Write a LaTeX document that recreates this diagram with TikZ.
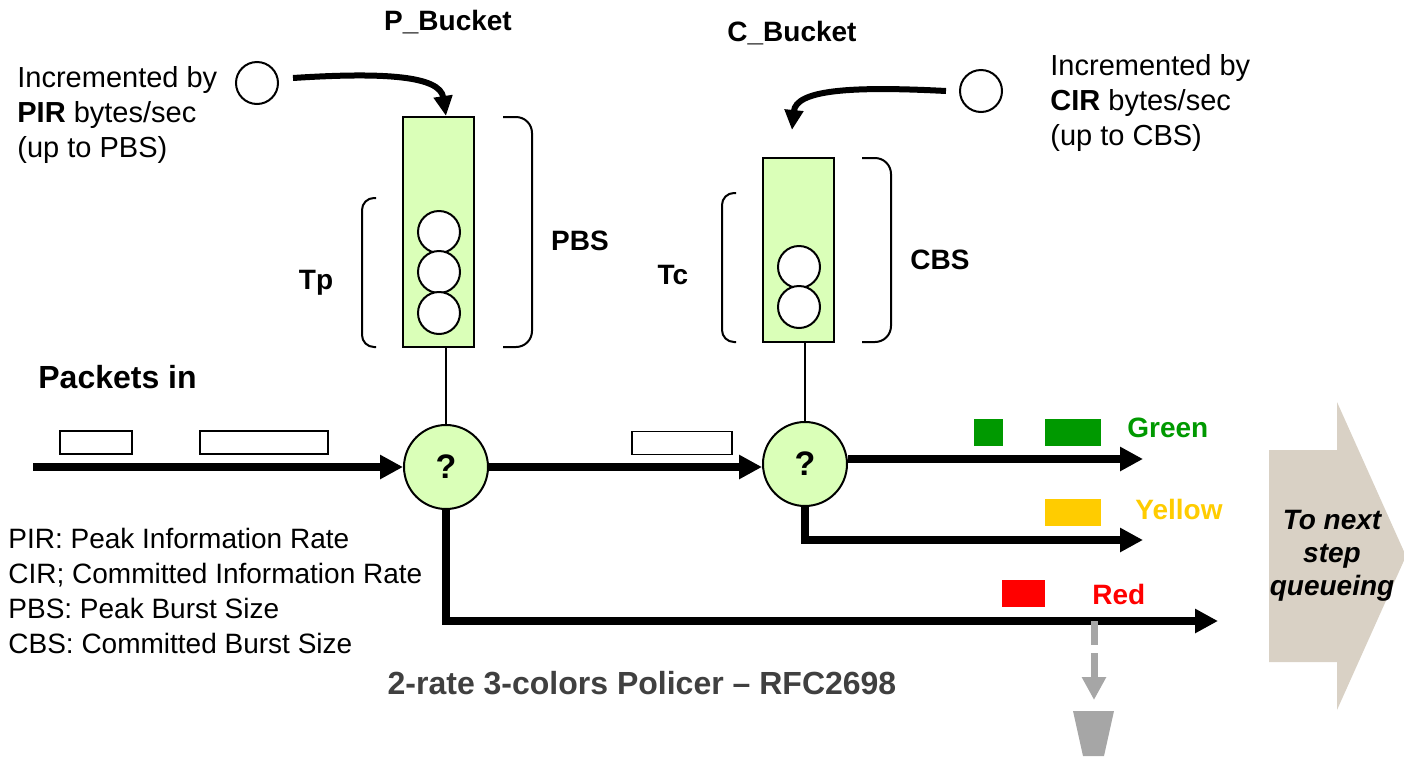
\documentclass[tikz,border=0pt]{standalone}
\usepackage{fontspec}
\setmainfont{Liberation Sans}
\usetikzlibrary{arrows.meta,calc}
\definecolor{bucketgreen}{RGB}{218,255,184}
\definecolor{pgreen}{RGB}{0,153,0}
\definecolor{pyellow}{RGB}{255,204,0}
\definecolor{pred}{RGB}{255,0,0}
\definecolor{tan}{RGB}{217,209,197}
\definecolor{dropgray}{RGB}{166,166,166}
\definecolor{captiongray}{RGB}{64,64,64}
\tikzset{
  txt/.style={inner sep=0pt, font=\fontsize{14pt}{17.5pt}\selectfont},
  note/.style={inner sep=0pt, font=\fontsize{14.5pt}{17.5pt}\selectfont},
  lbl/.style={inner sep=0pt, font=\fontsize{14pt}{17.5pt}\selectfont\bfseries},
  bucketbox/.style={draw, line width=1pt, fill=bucketgreen, inner sep=0pt, minimum width=35.5pt},
  token/.style={circle, draw, line width=1pt, fill=white, inner sep=0pt, minimum size=21pt},
  decision/.style={circle, draw, line width=1pt, fill=bucketgreen, inner sep=0pt, minimum size=42pt,
    font=\fontsize{17pt}{20pt}\selectfont\bfseries},
  pkt/.style={draw, line width=0.8pt, fill=white, inner sep=0pt, minimum height=11.5pt},
  chip/.style={inner sep=0pt, minimum height=13.5pt},
  main/.style={line width=3.75pt, -{Triangle[length=11.5pt,width=11.5pt]}},
  feed/.style={line width=3pt, -{Triangle[length=10pt,width=9pt]}},
  brace/.style={line width=1pt, rounded corners=6pt},
  stem/.style={line width=0.8pt},
}
\begin{document}
\begin{tikzpicture}[x=0.5pt,y=-0.5pt]
\useasboundingbox (0,0) rectangle (1404,756);

% buckets and their tokens
\node[bucketbox, minimum height=115pt] (pb) at (438.5,232) {};
\node[token] (pt1) at (439,232) {};
\node[token] (pt2) at (439,272) {};
\node[token] (pt3) at (439,313) {};
\node[bucketbox, minimum height=92pt] (cb) at (798.5,250) {};
\node[token] (ct1) at (799,267) {};
\node[token] (ct2) at (799,307) {};

% token sources
\node[token] (tokp) at (257,83) {};
\node[token] (tokc) at (981,91) {};

% decision points
\node[decision] (d1) at (446,467) {?};
\node[decision] (d2) at (805,464) {?};

% stems from buckets to decisions
\draw[stem] (d1.north |- pb.south) -- (d1.north);
\draw[stem] (d2.north |- cb.south) -- (d2.north);

% refill arrows
\draw[feed] ($(tokp.east)+(14,-5)$) .. controls (385,72) and (440,76) .. (d1.north |- pb.north);
\draw[feed] ($(tokc.west)+(-13,0)$) .. controls (850,86) and (796,90) .. (792,130);

% brackets
\draw[brace] (376,198) -- (362,198) -- (362,347) -- (376,347);
\draw[brace, rounded corners=8pt] (503,117) -- (532,117) -- (532,347) -- (503,347);
\draw[brace] (736,193) -- (722,193) -- (722,342) -- (736,342);
\draw[brace, rounded corners=8pt] (862,158) -- (891,158) -- (891,342) -- (862,342);

% labels around buckets
\node[lbl] (pbl) at (448,22) {P\_Bucket};
\node[lbl] (cbl) at (792,33) {C\_Bucket};
\node[lbl] (tp) at (316,283) {Tp};
\node[lbl] (pbs) at (580,241) {PBS};
\node[lbl] (tc) at (673,275) {Tc};
\node[lbl] (cbs) at (940,260) {CBS};

\node[note, anchor=west, align=left] (pinc) at (17,115)
  {Incremented by\\\textbf{PIR} bytes/sec\\(up to PBS)};
\node[note, anchor=west, align=left] (cinc) at (1050,103)
  {Incremented by\\\textbf{CIR} bytes/sec\\(up to CBS)};

% incoming packets
\node[inner sep=0pt, anchor=west, font=\fontsize{16pt}{19pt}\selectfont\bfseries] (pin) at (38,377) {Packets in};
\node[pkt, minimum width=36pt] (p1) at (96,442.5) {};
\node[pkt, minimum width=64pt] (p2) at (264,442.5) {};
\node[pkt, minimum width=50pt] (p3) at (682,443) {};

\coordinate (src) at (33,467);
\coordinate (gEnd) at (1143,459);
\coordinate (yEnd) at (1143,540);
\coordinate (rEnd) at (1218,621);

\draw[main] (src) -- (d1.west);
\draw[main] (d1.east) -- (d2.west |- d1.east);
\draw[main] (d2.east |- gEnd) -- (gEnd);
\draw[main] (d2.south) |- (yEnd);
\draw[main] (d1.south) |- (rEnd);

% coloured packets
\node[chip, fill=pgreen, minimum width=14.5pt] (g1) at (988.5,432.5) {};
\node[chip, fill=pgreen, minimum width=28pt] (g2) at (1073,432.5) {};
\node[chip, fill=pyellow, minimum width=28pt] (y1) at (1073,512.5) {};
\node[chip, fill=pred, minimum width=21.5pt] (r1) at (1023.5,593.5) {};

\node[lbl, anchor=west, text=pgreen] (gl) at (1127,428) {Green};
\node[lbl, anchor=west, text=pyellow] (yl) at (1135,509) {Yellow};
\node[lbl, anchor=west, text=pred] (rl) at (1092,594) {Red};

% drop path for red packets
\coordinate (drop) at (1094,621);
\coordinate (bin) at (1094,700);
\draw[line width=3.5pt, draw=dropgray, dash pattern=on 12pt off 4pt,
      -{Triangle[length=11.5pt,width=11.5pt,fill=dropgray]}] (drop) -- (bin);
\fill[dropgray] (1073,711) -- (1114,711) -- (1104,756) -- (1083,756) -- cycle;

% forwarding arrow
\fill[tan] (1269,450) -- (1337,450) -- (1337,402) -- (1406,556) -- (1337,710)
  -- (1337,662) -- (1269,662) -- cycle;
\node[inner sep=0pt, align=center, font=\fontsize{14pt}{16.5pt}\selectfont\bfseries\itshape] (next)
  at (1332,556) {To next\\step\\queueing};

% legend
\node[txt, anchor=west, align=left] (legend) at (8,591)
  {PIR: Peak Information Rate\\CIR; Committed Information Rate\\PBS: Peak Burst Size\\CBS: Committed Burst Size};

\node[inner sep=0pt, text=captiongray, font=\fontsize{16pt}{19pt}\selectfont\bfseries] (cap) at (642,683)
  {2-rate 3-colors Policer -- RFC2698};
\end{tikzpicture}
\end{document}
